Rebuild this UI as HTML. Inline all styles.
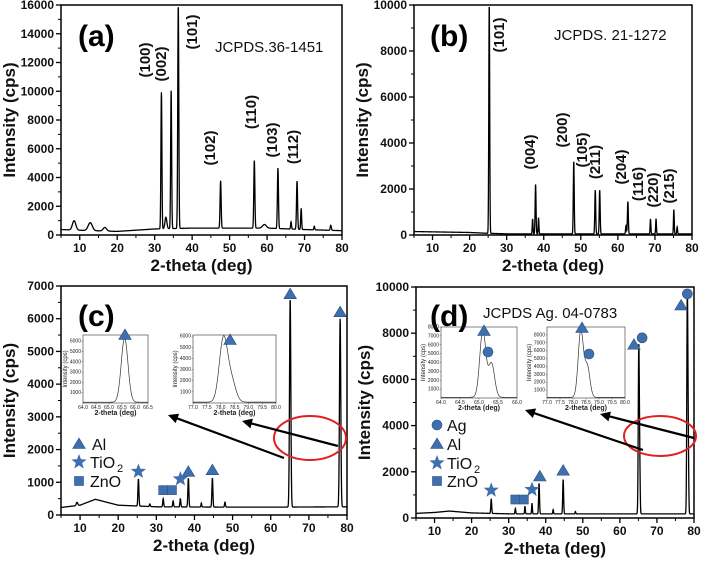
<!DOCTYPE html>
<html><head><meta charset="utf-8">
<style>
html,body{margin:0;padding:0;background:#fff;}
svg{display:block;font-family:"Liberation Sans",Arial,sans-serif;}
.tl{font-size:12px;font-weight:bold;fill:#111;}
.at{font-size:17px;font-weight:bold;fill:#111;}
.hkl{font-size:15px;font-weight:bold;fill:#111;}
.its{font-size:5px;fill:#222;}
</style></head>
<body>
<svg id="fig" width="708" height="561" viewBox="0 0 708 561"></svg>
<script>
// ---------- DATA ----------
// panel (a) ZnO
const aPeakPos=[8.5,12.8,16.7,31.8,33.0,34.4,36.3,47.6,56.6,59.3,62.9,66.4,68.0,69.1,72.6,77.0];
const aPeakHt=[650,550,250,9500,800,9600,15500,3300,4700,250,4200,500,3350,1450,250,350];
const aPeakW=[0.45,0.55,0.45,0.13,0.25,0.13,0.14,0.14,0.14,0.5,0.14,0.12,0.14,0.12,0.12,0.15];
const aBaseX=[5,10,20,30,40,60,70,80];
const aBaseY=[380,330,250,420,480,480,380,300];
// panel (b) TiO2
const bPeakPos=[25.3,37.0,37.8,38.6,48.1,53.9,55.1,62.2,62.7,68.8,70.3,75.1,76.0];
const bPeakHt=[9950,650,2150,700,3150,1900,1900,350,1400,650,650,1050,300];
const bPeakW=[0.12,0.1,0.12,0.1,0.12,0.12,0.12,0.12,0.12,0.1,0.1,0.1,0.1];
const bBaseX=[5,20,24,30,80];
const bBaseY=[150,110,80,50,50];
// panel (c) composite
const cPeakPos=[9.2,25.3,28.3,31.8,34.4,36.3,38.4,41.8,44.7,48.0,65.1,78.2];
const cPeakHt=[100,820,80,250,180,250,880,120,880,150,6350,5750];
const cPeakW=[0.2,0.13,0.12,0.12,0.12,0.12,0.13,0.1,0.13,0.12,0.17,0.17];
const cBaseX=[5,10,14,20,30,50,60,80];
const cBaseY=[230,300,480,300,250,240,240,250];
// panel (d) Ag composite
const dPeakPos=[25.3,31.8,34.4,36.3,38.2,42.0,44.7,48.0,65.1,65.35,78.2,78.45];
const dPeakHt=[620,230,330,450,1320,180,1480,100,7100,2000,9400,2600];
const dPeakW=[0.12,0.1,0.1,0.1,0.12,0.1,0.12,0.1,0.14,0.12,0.14,0.12];
const dBaseX=[5,10,14,20,30,80];
const dBaseY=[200,240,300,220,180,180];
// tick labels
const aYTicks=[0,2000,4000,6000,8000,10000,12000,14000,16000];
const bYTicks=[0,2000,4000,6000,8000,10000];
const cYTicks=[0,1000,2000,3000,4000,5000,6000,7000];
const dYTicks=[0,2000,4000,6000,8000,10000];
const xTicks=[10,20,30,40,50,60,70,80];
// insets
const ciPos1=[65.6], ciHt1=[6200], ciW1=[0.13];
const ciPos2=[78.1,78.4], ciHt2=[5700,1800], ciW2=[0.15,0.15];
const diPos1=[65.1,65.33], diHt1=[7500,3800], diW1=[0.08,0.08];
const diPos2=[78.3,78.55], diHt2=[8400,3900], diW2=[0.1,0.1];

// ---------- DRAW ----------
const NS="http://www.w3.org/2000/svg";
const svg=document.getElementById('fig');
function mk(tag,attrs,parent){const e=document.createElementNS(NS,tag);for(const k in attrs)e.setAttribute(k,attrs[k]);(parent||svg).appendChild(e);return e;}
function interp(xs,ys,x){if(x<=xs[0])return ys[0];for(let i=1;i<xs.length;i++){if(x<=xs[i]){const t=(x-xs[i-1])/(xs[i]-xs[i-1]);return ys[i-1]+t*(ys[i]-ys[i-1]);}}return ys[ys.length-1];}
function curve(x,pos,ht,w,bx,by){let y=bx?interp(bx,by,x):0;for(let i=0;i<pos.length;i++){const d=(x-pos[i])/w[i];y+=ht[i]*Math.exp(-0.5*d*d);}return y;}

function panel(name,f,ymax,yTicks,pos,ht,w,bx,by){
  const g=mk('g',{});
  
  
  const X=v=>f.l+(v-5)/75*(f.r-f.l);
  const Y=v=>f.b-v/ymax*(f.b-f.t);
  let d='';
  for(let x=5;x<=80.001;x+=0.04){const v=Math.min(curve(x,pos,ht,w,bx,by),ymax);d+=(d?'L':'M')+X(x).toFixed(2)+','+Y(v).toFixed(2);}
  const ln=mk('path',{d:d,fill:'none',stroke:'#000','stroke-width':1.3},g);
  
  
  const fr=mk('rect',{x:f.l,y:f.t,width:f.r-f.l,height:f.b-f.t,fill:'none',stroke:'#000','stroke-width':1.5},g);
  
  
  const step=yTicks[1]-yTicks[0];
  yTicks.forEach(v=>{
    mk('line',{x1:f.l-5,x2:f.l,y1:Y(v),y2:Y(v),stroke:'#000','stroke-width':1.3},g);
    if(v+step/2<=ymax)mk('line',{x1:f.l-3,x2:f.l,y1:Y(v+step/2),y2:Y(v+step/2),stroke:'#000','stroke-width':1},g);
    const t=mk('text',{x:f.l-7,y:Y(v)+4,'text-anchor':'end',class:'tl'},g);t.textContent=v;
    
    
  });
  xTicks.forEach(v=>{
    mk('line',{x1:X(v),x2:X(v),y1:f.b,y2:f.b+5,stroke:'#000','stroke-width':1.3},g);
    mk('line',{x1:X(v-5),x2:X(v-5),y1:f.b,y2:f.b+3,stroke:'#000','stroke-width':1},g);
    const t=mk('text',{x:X(v),y:f.b+17,'text-anchor':'middle',class:'tl'},g);t.textContent=v;
    
    
  });
  const xt=mk('text',{x:(f.l+f.r)/2,y:f.b+36,'text-anchor':'middle',class:'at'},g);xt.textContent='2-theta (deg)';
  
  
  const yt=mk('text',{x:0,y:0,'text-anchor':'middle',class:'at',transform:`translate(${f.l-46},${(f.t+f.b)/2}) rotate(-90)`},g);yt.textContent='Intensity (cps)';
  
  
  return {X,Y,g};
}
function txt(s,x,y,cls,rot,name,extra){const a={x:0,y:0,'text-anchor':rot?'middle':'start',class:cls||'',transform:`translate(${x},${y})`+(rot?' rotate(-90)':'')};const t=mk('text',a);if(extra)for(const k in extra)t.setAttribute(k,extra[k]);t.textContent=s;
  
  
  return t;}

const blue='#3f6fae';
function tri(x,y,s){const e=mk('polygon',{points:`${x},${y-s} ${x-s*1.05},${y+s*0.75} ${x+s*1.05},${y+s*0.75}`,fill:blue,stroke:'#2c4f80','stroke-width':0.6});
  
  }
function sq(x,y,s){const e=mk('rect',{x:x-s,y:y-s,width:2*s,height:2*s,fill:blue,stroke:'#2c4f80','stroke-width':0.6});
  
  }
function circ(x,y,s){const e=mk('circle',{cx:x,cy:y,r:s,fill:blue,stroke:'#2c4f80','stroke-width':0.6});
  
  }
function star(x,y,s){let p='';for(let i=0;i<10;i++){const r=i%2?s*0.42:s;const a=-Math.PI/2+i*Math.PI/5;p+=(x+r*Math.cos(a)).toFixed(1)+','+(y+r*Math.sin(a)).toFixed(1)+' ';}
  const e=mk('polygon',{points:p,fill:blue});
  
  }

function inset(name,f,x0,x1,xt,ymax,yt,pos,ht,w){
  const g=mk('g',{});
  
  
  const X=v=>f.l+(v-x0)/(x1-x0)*(f.r-f.l);
  const Y=v=>f.b-v/ymax*(f.b-f.t);
  let d='';
  for(let x=x0;x<=x1+1e-6;x+=(x1-x0)/300){d+=(d?'L':'M')+X(x).toFixed(2)+','+Y(curve(x,pos,ht,w)+80).toFixed(2);}
  mk('path',{d:d,fill:'none',stroke:'#333','stroke-width':0.7},g);
  mk('rect',{x:f.l,y:f.t,width:f.r-f.l,height:f.b-f.t,fill:'none',stroke:'#333','stroke-width':0.6},g);
  xt.forEach(v=>{mk('line',{x1:X(v),x2:X(v),y1:f.b,y2:f.b+1.5,stroke:'#333','stroke-width':0.4},g);
    const t=mk('text',{x:X(v),y:f.b+6,'text-anchor':'middle',class:'its'},g);t.textContent=v.toFixed(1);});
  yt.forEach(v=>{mk('line',{x1:f.l-1.5,x2:f.l,y1:Y(v),y2:Y(v),stroke:'#333','stroke-width':0.4},g);
    const t=mk('text',{x:f.l-2,y:Y(v)+1.5,'text-anchor':'end',class:'its'},g);t.textContent=v;});
  const a=mk('text',{x:(f.l+f.r)/2,y:f.b+12,'text-anchor':'middle',style:'font-size:7px;font-weight:bold;fill:#222'},g);a.textContent='2-theta (deg)';
  const b=mk('text',{x:0,y:0,'text-anchor':'middle',style:'font-size:6px;fill:#222',transform:`translate(${f.l-16},${(f.t+f.b)/2}) rotate(-90)`},g);b.textContent='Intensity (cps)';
  return {X,Y};
}
function arrow(x1,y1,x2,y2,name){
  const dx=x2-x1,dy=y2-y1,L=Math.hypot(dx,dy),ux=dx/L,uy=dy/L;
  const e=mk('line',{x1,y1,x2:x2-ux*6,y2:y2-uy*6,stroke:'#000','stroke-width':2.2});
  
  
  const h=mk('polygon',{points:`${x2},${y2} ${x2-ux*10-uy*5},${y2-uy*10+ux*5} ${x2-ux*10+uy*5},${y2-uy*10-ux*5}`,fill:'#000'});
  
  
}

// ----- panel a -----
const A=panel('panel-a',{l:61,r:342,t:5,b:235},16000,aYTicks,aPeakPos,aPeakHt,aPeakW,aBaseX,aBaseY);
txt('(a)',78,46,'', false,'panel-a-label',{style:'font-size:30px;font-weight:bold'});
txt('JCPDS.36-1451',215,52,'',false,'jcpds-a',{style:'font-size:15px;fill:#111'});
[['(100)',150,60],['(002)',166,64],['(101)',197,32],['(102)',215,148],['(110)',256,112],['(103)',277,140],['(112)',298,147]]
  .forEach(l=>txt(l[0],l[1],l[2],'hkl',true,'hkl-label-a'));
// ----- panel b -----
const B=panel('panel-b',{l:414,r:692,t:5,b:235},10000,bYTicks,bPeakPos,bPeakHt,bPeakW,bBaseX,bBaseY);
txt('(b)',430,46,'',false,'panel-b-label',{style:'font-size:30px;font-weight:bold'});
txt('JCPDS. 21-1272',554,40,'',false,'jcpds-b',{style:'font-size:15px;fill:#111'});
[['(101)',504,35],['(004)',535,152],['(200)',567,130],['(105)',587,150],['(211)',600,162],['(204)',626,167],['(116)',643,184],['(220)',658,190],['(215)',674,186]]
  .forEach(l=>txt(l[0],l[1],l[2],'hkl',true,'hkl-label-b'));
// ----- panel c -----
const C=panel('panel-c',{l:61,r:347,t:286,b:515},7000,cYTicks,cPeakPos,cPeakHt,cPeakW,cBaseX,cBaseY);
txt('(c)',78,326,'',false,'panel-c-label',{style:'font-size:30px;font-weight:bold'});
inset('inset-c-1',{l:83,r:148,t:335,b:403},64.0,66.5,[64.0,64.5,65.0,65.5,66.0,66.5],6600,[1000,2000,3000,4000,5000,6000],ciPos1,ciHt1,ciW1);
inset('inset-c-2',{l:193,r:276,t:335,b:403},77.0,80.0,[77.0,77.5,78.0,78.5,79.0,79.5,80.0],6100,[1000,2000,3000,4000,5000,6000],ciPos2,ciHt2,ciW2);
tri(125,335,6);tri(230,340,6);
tri(C.X(65.1),C.Y(6750),6);tri(C.X(78.2),C.Y(6200),6);tri(C.X(38.4),C.Y(1320),6);tri(C.X(44.7),C.Y(1370),6);
star(C.X(25.3),C.Y(1330),8);star(C.X(36.3),C.Y(1100),8);sq(C.X(31.8),C.Y(760),4.5);sq(C.X(34.1),C.Y(760),4.5);
tri(79,444,6);txt('Al',92,450,'',false,'legend-al-c',{style:'font-size:16px;fill:#111'});
star(79,462,8);txt('TiO',90,468,'',false,'legend-tio2-c',{style:'font-size:16px;fill:#111'});txt('2',117,472,'',false,'sub-2',{style:'font-size:11px;fill:#111'});
sq(79,481,4.5);txt('ZnO',90,487,'',false,'legend-zno-c',{style:'font-size:16px;fill:#111'});
const e1=mk('ellipse',{cx:310,cy:438,rx:36,ry:22,fill:'none',stroke:'#e02020','stroke-width':2});


arrow(284,458,168,415,'arrow-c-1');arrow(338,446,242,421,'arrow-c-2');
// ----- panel d -----
const D=panel('panel-d',{l:416,r:694,t:287,b:518},10000,dYTicks,dPeakPos,dPeakHt,dPeakW,dBaseX,dBaseY);
txt('(d)',430,326,'',false,'panel-d-label',{style:'font-size:30px;font-weight:bold'});
txt('JCPDS Ag. 04-0783',483,318,'',false,'jcpds-d',{style:'font-size:15px;fill:#111'});
inset('inset-d-1',{l:441,r:517,t:327,b:398},64.0,66.0,[64.0,64.5,65.0,65.5,66.0],8000,[1000,2000,3000,4000,5000,6000,7000,8000],diPos1,diHt1,diW1);
inset('inset-d-2',{l:547,r:625,t:327,b:398},77.0,80.0,[77.0,77.5,78.0,78.5,79.0,79.5,80.0],9000,[1000,2000,3000,4000,5000,6000,7000,8000],diPos2,diHt2,diW2);
tri(484,331,6);circ(488,352,5);tri(582,328,6);circ(589,354,5);
tri(D.X(63.8),D.Y(7500),6);circ(D.X(66),D.Y(7800),5);tri(D.X(76.5),D.Y(9200),6);circ(D.X(78.2),D.Y(9700),5);
tri(D.X(38.4),D.Y(1800),6);tri(D.X(44.7),D.Y(2050),6);
star(D.X(25.3),D.Y(1200),8);star(D.X(36.3),D.Y(1230),8);sq(D.X(31.8),D.Y(800),4.5);sq(D.X(34.1),D.Y(800),4.5);
circ(437,425,5);txt('Ag',447,431,'',false,'legend-ag-d',{style:'font-size:16px;fill:#111'});
tri(437,444,6);txt('Al',447,450,'',false,'legend-al-d',{style:'font-size:16px;fill:#111'});
star(437,463,8);txt('TiO',447,469,'',false,'legend-tio2-d',{style:'font-size:16px;fill:#111'});txt('2',474,473,'',false,'sub-2',{style:'font-size:11px;fill:#111'});
sq(437,481,4.5);txt('ZnO',447,487,'',false,'legend-zno-d',{style:'font-size:16px;fill:#111'});
const e2=mk('ellipse',{cx:660,cy:436,rx:36,ry:20,fill:'none',stroke:'#e02020','stroke-width':2});


arrow(643,450,525,410,'arrow-d-1');arrow(694,438,600,414,'arrow-d-2');
</script>
</body></html>
